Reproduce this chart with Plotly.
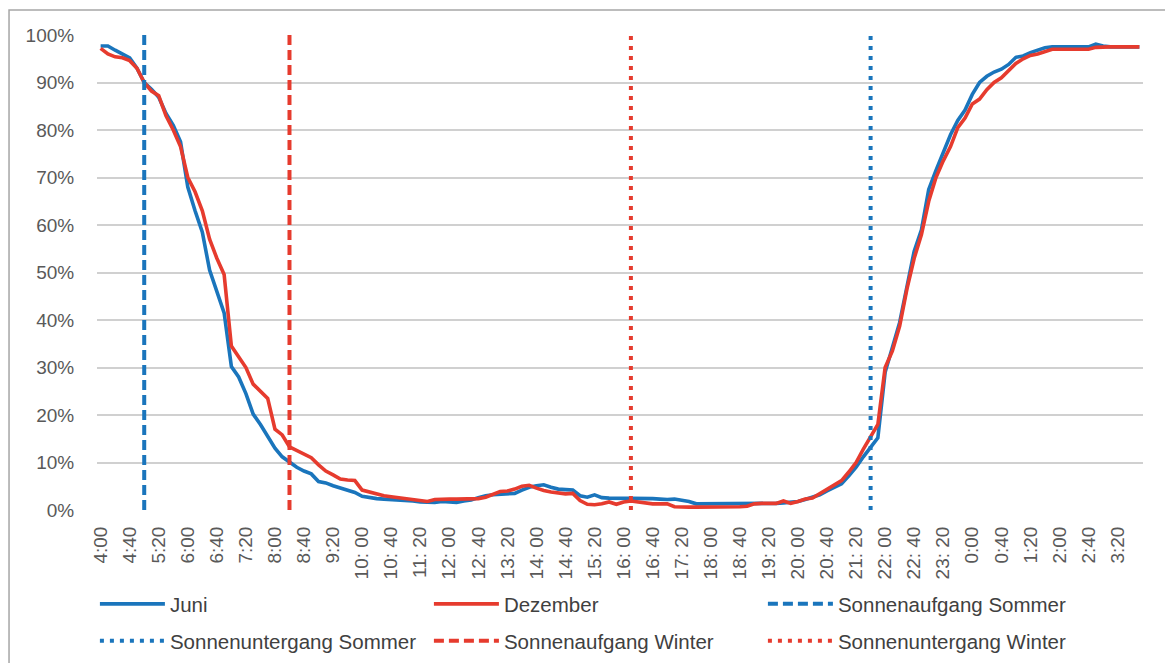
import plotly.graph_objects as go

# 10-minute time slots over one day, starting at 4:00
zeit = [f"{(4 + m // 60) % 24}:{m % 60:02d}" for m in range(0, 24 * 60, 10)]

# Share (%) per time slot
juni = [
    97.7, 97.7, 96.8, 95.9, 95.2, 93.0, 90.0, 88.6, 86.9, 83.5, 81.0, 77.5,
    68.0, 63.0, 58.5, 50.5, 46.0, 41.5, 30.2, 28.0, 24.5, 20.2, 18.0, 15.5,
    13.0, 11.2, 10.0, 9.0, 8.2, 7.6, 6.0, 5.7, 5.1, 4.6, 4.2, 3.7,
    2.9, 2.6, 2.4, 2.3, 2.2, 2.2, 2.1, 1.9, 1.7, 1.6, 1.6, 1.8,
    1.7, 1.6, 1.9, 2.1, 2.6, 3.0, 3.2, 3.3, 3.4, 3.5, 4.2, 4.8,
    5.1, 5.3, 4.8, 4.4, 4.3, 4.2, 3.0, 2.7, 3.2, 2.6, 2.5, 2.5,
    2.5, 2.5, 2.5, 2.5, 2.4, 2.3, 2.2, 2.3, 2.0, 1.8, 1.3, 1.3,
    1.3, 1.3, 1.3, 1.3, 1.3, 1.3, 1.3, 1.3, 1.3, 1.4, 1.5, 1.6,
    1.8, 2.2, 2.7, 3.2, 4.0, 4.8, 5.5, 7.2, 9.0, 11.2, 13.3, 15.2,
    29.0, 34.0, 39.5, 47.0, 54.5, 59.0, 67.5, 71.5, 75.5, 79.0, 82.0, 84.2,
    87.5, 90.0, 91.3, 92.2, 92.8, 93.8, 95.3, 95.6, 96.3, 96.9, 97.3, 97.5,
    97.5, 97.5, 97.5, 97.5, 97.5, 98.1, 97.7, 97.5, 97.5, 97.5, 97.5, 97.5,
]
dezember = [
    97.2, 96.0, 95.4, 95.2, 94.6, 93.0, 90.0, 88.2, 87.2, 83.0, 80.0, 76.5,
    70.0, 67.0, 63.0, 57.0, 53.0, 49.6, 34.5, 32.3, 30.0, 26.5, 25.0, 23.5,
    17.0, 15.8, 13.3, 12.5, 11.7, 11.0, 9.5, 8.2, 7.4, 6.5, 6.3, 6.2,
    4.2, 3.8, 3.5, 3.0, 2.8, 2.6, 2.4, 2.1, 1.9, 1.8, 2.2, 2.3,
    2.3, 2.3, 2.3, 2.3, 2.4, 2.7, 3.2, 3.9, 4.0, 4.4, 5.0, 5.2,
    4.6, 4.1, 3.8, 3.6, 3.4, 3.5, 2.0, 1.2, 1.1, 1.3, 1.7, 1.2,
    1.7, 1.9, 1.7, 1.4, 1.3, 1.3, 1.3, 0.7, 0.6, 0.6, 0.6, 0.6,
    0.6, 0.6, 0.6, 0.7, 0.7, 0.8, 1.3, 1.4, 1.4, 1.4, 1.9, 1.4,
    1.8, 2.3, 2.5, 3.4, 4.4, 5.1, 6.2, 8.0, 10.0, 12.8, 15.5, 18.0,
    30.0, 33.5, 38.7, 46.5, 53.0, 58.0, 65.0, 70.0, 73.5, 76.5, 80.5, 82.5,
    85.5, 86.5, 88.5, 90.0, 91.0, 92.4, 94.0, 95.0, 95.7, 96.0, 96.6, 97.0,
    97.0, 97.0, 97.0, 97.0, 97.0, 97.4, 97.5, 97.5, 97.5, 97.5, 97.5, 97.5,
]

# Sunrise / sunset times
sonnenaufgang_sommer = "5:00"
sonnenuntergang_sommer = "21:40"
sonnenaufgang_winter = "8:20"
sonnenuntergang_winter = "16:10"

# Axis labels: every fourth slot on x, 10 % steps on y
tick_werte = zeit[::4]
tick_texte = [t.replace(":", ": ") if len(t) == 5 else t for t in tick_werte]
y_werte = list(range(0, 101, 10))
y_texte = [f"{v}%" for v in y_werte]

BLAU = "#1a75bc"
ROT = "#e63b2e"
TEXT = "#595959"
FONT = "Liberation Sans, Arial, sans-serif"

fig = go.Figure()

fig.add_trace(go.Scatter(x=zeit, y=juni, name="Juni", mode="lines",
                         line=dict(color=BLAU, width=3.6), legend="legend"))
fig.add_trace(go.Scatter(x=zeit, y=dezember, name="Dezember", mode="lines",
                         line=dict(color=ROT, width=3.6), legend="legend"))

marker_lines = [
    ("Sonnenaufgang Sommer", sonnenaufgang_sommer, BLAU, "10px,5px", "legend"),
    ("Sonnenuntergang Sommer", sonnenuntergang_sommer, BLAU, "4px,6px", "legend2"),
    ("Sonnenaufgang Winter", sonnenaufgang_winter, ROT, "10px,5px", "legend2"),
    ("Sonnenuntergang Winter", sonnenuntergang_winter, ROT, "4px,6px", "legend2"),
]
for name, t, color, dash, leg in marker_lines:
    fig.add_trace(go.Scatter(x=[t, t], y=[0, 100], name=name, mode="lines",
                             line=dict(color=color, width=4, dash=dash),
                             legend=leg))

legend_common = dict(
    orientation="h", xanchor="left", yanchor="middle",
    font=dict(family=FONT, size=20.5, color="#404040"),
    entrywidth=254, entrywidthmode="pixels", itemwidth=65,
    bgcolor="rgba(0,0,0,0)", borderwidth=0,
)

fig.update_layout(
    width=1165, height=663,
    margin=dict(l=97, r=22, t=35, b=153, autoexpand=False),
    paper_bgcolor="white", plot_bgcolor="white",
    font=dict(family=FONT, color=TEXT),
    showlegend=True,
    legend=dict(x=-0.002, y=-0.198, **legend_common),
    legend2=dict(x=-0.002, y=-0.2758, **legend_common),
    xaxis=dict(
        type="category", categoryorder="array", categoryarray=zeit,
        range=[-0.5, len(zeit) - 0.5],
        tickmode="array", tickvals=tick_werte, ticktext=tick_texte,
        tickangle=-90, tickfont=dict(size=19, color=TEXT),
        ticks="outside", ticklen=8, tickcolor="rgba(0,0,0,0)",
        showgrid=False, zeroline=False, showline=False,
    ),
    yaxis=dict(
        range=[0, 100], tickmode="array", tickvals=y_werte, ticktext=y_texte,
        tickfont=dict(size=19, color=TEXT),
        ticks="outside", ticklen=18, tickcolor="rgba(0,0,0,0)",
        showgrid=True, gridcolor="#d0d0d0", gridwidth=1.6,
        zeroline=False, showline=False,
    ),
    shapes=[dict(type="rect", xref="paper", yref="paper",
                 x0=-0.0841, x1=1.05, y0=-0.4, y1=1.0526,
                 line=dict(color="#a6a6a6", width=1.5), layer="below")],
)

fig.write_html("out.html")
